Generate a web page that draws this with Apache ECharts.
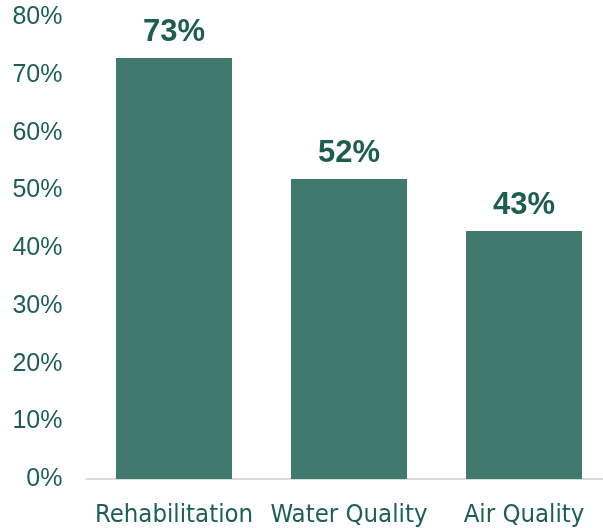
<!DOCTYPE html>
<html><head><meta charset="utf-8">
<script src="https://cdn.jsdelivr.net/npm/echarts@6/dist/echarts.min.js"></script>
<style>html,body{margin:0;padding:0;background:#fff}#c{width:603px;height:528px}</style>
</head><body><div id="c"></div>
<script>
const categories = ['Rehabilitation', 'Water Quality', 'Air Quality'];
const values = [73, 52, 43];
const yTicks = [0, 10, 20, 30, 40, 50, 60, 70, 80];

const chart = echarts.init(document.getElementById('c'));
chart.setOption({
  animation: false,
  grid: { left: 86.5, width: 525, top: 17.5, bottom: 49, outerBoundsMode: 'none', containLabel: false },
  xAxis: {
    type: 'category', data: categories,
    axisLine: { lineStyle: { color: '#d9d9d9', width: 2 } },
    axisTick: { show: false },
    axisLabel: { interval: 0, color: '#1e5f55', fontSize: 25.5, fontFamily: 'DejaVu Sans Condensed', margin: 23 }
  },
  yAxis: {
    type: 'value', min: yTicks[0], max: yTicks[yTicks.length - 1], interval: 10,
    splitLine: { show: false },
    axisLine: { show: false },
    axisLabel: { color: '#1e5f55', fontSize: 25, fontFamily: 'Liberation Sans', formatter: '{value}%', margin: 24 }
  },
  series: [{
    type: 'bar', data: values, barCategoryGap: '33.7%',
    itemStyle: { color: '#41796f' },
    label: { show: true, position: 'top', distance: 10, formatter: '{c}%', color: '#1c5e50', fontSize: 31, fontWeight: 'bold', fontFamily: 'Liberation Sans' }
  }]
});
</script></body></html>
